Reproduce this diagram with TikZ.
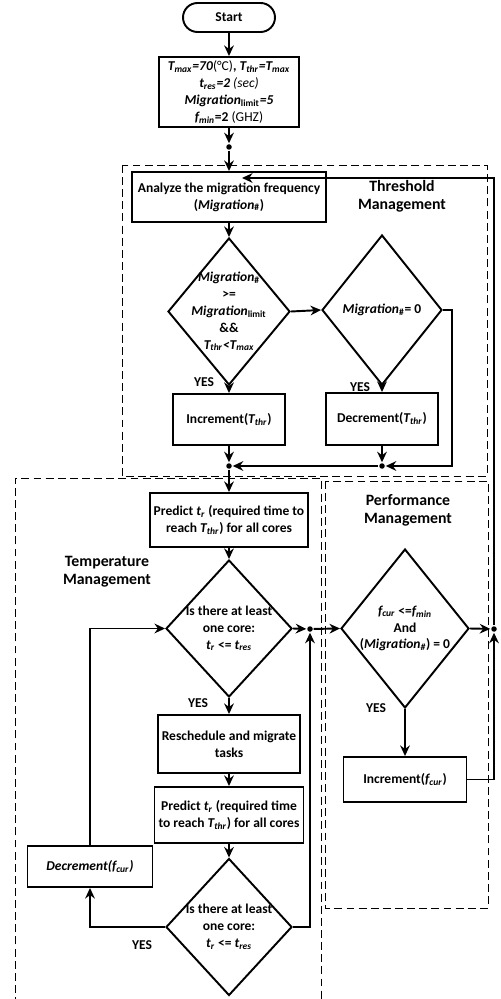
\documentclass[tikz,border=0pt]{standalone}
\usepackage{fontspec}
\setmainfont{Carlito}
\usetikzlibrary{calc}
\usetikzlibrary{shapes.geometric,arrows.meta}

\newcommand{\lo}[1]{\textsubscript{#1}}

\begin{document}
\begin{tikzpicture}[x=0.02cm, y=-0.02cm, line width=1.1pt,
	font=\fontsize{7.7}{9.6}\selectfont\bfseries,
	box/.style={rectangle, draw, inner sep=1pt, align=center},
	decision/.style={diamond, draw, inner sep=0pt},
	dot/.style={circle, fill, inner sep=0pt, minimum size=0.11cm},
	zone/.style={line width=0.5pt, dash pattern=on 4.5pt off 2.4pt},
	title/.style={align=center, font=\fontsize{9}{10.2}\selectfont\bfseries},
	arr/.style={-{Stealth[length=6pt, width=5.5pt]}}]

	\useasboundingbox (0,0) rectangle (500,999);

	% the three management regions
	\draw[zone] (122,165) rectangle (487,476);
	\draw[zone] (15,1005) |- (321,478) -- (321,1005);
	\draw[zone] (325,481) rectangle (488,908);

	\node (thr) [title] at (402,196) {Threshold\\Management};
	\node (temp) [title] at (107,572) {Temperature\\Management};
	\node (perf) [title] at (408,510) {Performance\\Management};

	\node[draw, rounded corners=0.29cm, minimum width=1.84cm, minimum height=0.58cm] (start) at (229,17.5) {Start};

	\node[box, minimum width=2.8cm, minimum height=1.4cm] (init) at (229,92) {\textit{T\lo{max}=70}{\mdseries(°C)}, \textit{T\lo{thr}=T\lo{max}}\\
		\textit{t\lo{res}=2} {\mdseries\itshape(sec)}\\
		\textit{Migration}\lo{limit}\textit{=5}\\
		\textit{f\lo{min}}=2 {\mdseries(GHZ)}};

	\node[dot] (j1) at (229,147) {};
	\node[box, minimum width=3.88cm, minimum height=1cm] (analyze) at (229,197) {Analyze the migration frequency\\(\textit{Migration}\lo{\#})};
	\coordinate (back) at (242,178);

	\node[decision, minimum width=2.44cm, minimum height=2.94cm,
		label={[align=center, name=d1t]center:\textit{Migration}\lo{\#}\\>=\\\textit{Migration}\lo{limit}\\\&\&\\\textit{T\lo{thr}<T\lo{max}}}] (d1) at (229,311.5) {};
	\node[decision, minimum width=2.4cm, minimum height=3cm,
		label={[name=d2t]center:\textit{Migration}\lo{\#}= 0}] (d2) at (382,310) {};

	\node (yes1) at ($(d1.south)+(-25,-4)$) {YES};
	\node (yes2) at ($(d2.south)+(-22,1)$) {YES};

	\node[box, minimum width=2.24cm, minimum height=1.02cm] (incT) at (229,419.5) {Increment(\textit{T\lo{thr}})};
	\node[box, minimum width=2.24cm, minimum height=1.04cm] (decT) at (382,419) {Decrement(\textit{T\lo{thr}})};

	\node[dot] (j2) at (229,466) {};
	\node[dot] (j3) at (382,466) {};

	\node[box, minimum width=3.16cm, minimum height=1.08cm] (predA) at (229,520) {Predict \textit{t\lo{r}} (required time to\\reach \textit{T\lo{thr}}) for all cores};

	\node[decision, minimum width=2.52cm, minimum height=2.74cm,
		label={[align=center, name=d3t]center:Is there at least\\one core:\\\textit{t\lo{r}} <= \textit{t\lo{res}}}] (d3) at (229,628.5) {};
	\node[decision, minimum width=2.56cm, minimum height=3.18cm,
		label={[align=center, name=d4t]center:\textit{f\lo{cur}} <=\textit{f\lo{min}}\\And\\(\textit{Migration\lo{\#}}) = 0}] (d4) at (405,628.5) {};

	\node[dot] (j4) at (310,629) {};
	\node[dot] (j5) at (494,629) {};

	\node (yes3) at ($(d3.south)+(-31,5)$) {YES};
	\node (yes4) at ($(d4.south)+(-29,-1)$) {YES};

	\node[box, minimum width=2.84cm, minimum height=1.16cm] (resched) at (229,744) {Reschedule and migrate\\tasks};
	\node[box, minimum width=2.46cm, minimum height=0.9cm] (incF) at (405,779.5) {Increment(\textit{f\lo{cur}})};
	\node[box, minimum width=2.98cm, minimum height=1.12cm] (predB) at (229,815) {Predict \textit{t\lo{r}} (required time\\to reach \textit{T\lo{thr}}) for all cores};
	\node[box, minimum width=2.5cm, minimum height=0.82cm] (decF) at (90,866.5) {\textit{Decrement(f\lo{cur})}};

	\node[decision, minimum width=2.52cm, minimum height=2.74cm,
		label={[align=center, name=d5t]center:Is there at least\\one core:\\\textit{t\lo{r}} <= \textit{t\lo{res}}}] (d5) at (229,927) {};
	\node (yes5) at ($(d5.west)+(-23,18)$) {YES};

	\draw[arr] (start) -- (init);
	\draw[arr] (init) -- (j1);
	\draw[arr] (j1) -- (analyze);
	\draw[arr] (analyze) -- (d1);
	\draw[arr] (d1.east) -- (d2.west);
	\draw[arr] (d1.south) -- (incT);
	\draw[arr] (d2.south) -- (decT);
	\draw[arr] (d2.east) -- ++(9,0) |- (j3);
	\draw[arr] (decT) -- (j3);
	\draw[arr] (j3) -- (j2);
	\draw[arr] (incT) -- (j2);
	\draw[arr] (j2) -- (predA);
	\draw[arr] (predA) -- (d3);
	\draw[arr] (d3.south) -- (resched);
	\draw[arr] (resched) -- (predB);
	\draw[arr] (predB) -- (d5);
	\draw[arr] (d5.west) -| (decF.south);
	\draw[arr] (decF.north) |- (d3.west);
	\draw[arr] (d5.east) -| (j4);
	\draw[arr] (d3.east) -- (j4);
	\draw[arr] (j4) -- (d4.west);
	\draw[arr] (d4.south) -- (incF);
	\draw[arr] (d4.east) -- (j5);
	\draw[arr] (incF.east) -| (j5);
	\draw[arr] (j5) |- (back);

\end{tikzpicture}
\end{document}
